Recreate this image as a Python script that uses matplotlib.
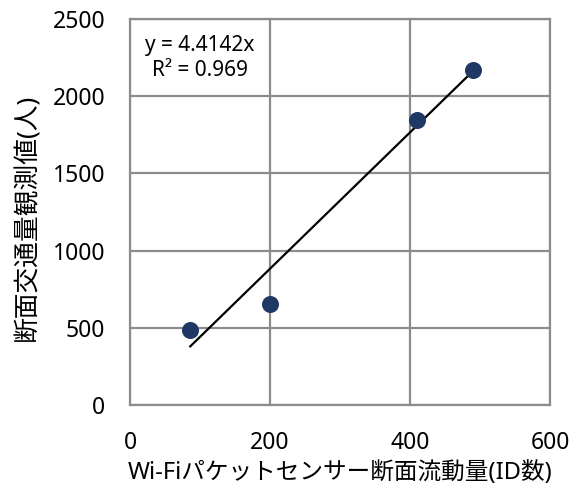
import matplotlib.pyplot as plt
import numpy as np

plt.rcParams['font.family'] = ['Noto Sans', 'Noto Sans CJK JP', 'DejaVu Sans']

# data
wifi = [86, 200, 410, 490]
count = [486, 654, 1846, 2170]
slope = 4.4142
r2 = 0.969

x_ticks = [0, 200, 400, 600]
y_ticks = [0, 500, 1000, 1500, 2000, 2500]

fig = plt.figure(figsize=(5.81, 4.88), dpi=100)
ax = fig.add_axes([0.2238, 0.170, 0.7228, 0.791])

ax.set_xlim(0, 600)
ax.set_ylim(0, 2500)
ax.set_xticks(x_ticks)
ax.set_yticks(y_ticks)
ax.grid(True, color='#8c8c8c', linewidth=1.6)
ax.set_axisbelow(True)
for s in ax.spines.values():
    s.set_color('#8c8c8c')
    s.set_linewidth(1.6)
ax.tick_params(axis='x', length=0, labelsize=16.5, pad=19)
ax.tick_params(axis='y', length=0, labelsize=16.5, pad=18)

# trendline through origin
tx = np.array([min(wifi), max(wifi)])
ax.plot(tx, slope * tx, color='black', linewidth=1.6, zorder=3)
ax.scatter(wifi, count, s=150, color='#1f3864', zorder=4, linewidths=0)

ax.text(0.167, 0.899, f'y = {slope}x\nR² = {r2}', transform=ax.transAxes,
        ha='center', va='center', fontsize=15, linespacing=1.3)

ax.set_xlabel('Wi-Fiパケットセンサー断面流動量(ID数)', fontsize=17, labelpad=4)
ax.set_ylabel('断面交通量観測値(人)', fontsize=18.5, labelpad=2)
ax.yaxis.set_label_coords(-0.213, 0.485)

fig.savefig('out.png', dpi=100)
